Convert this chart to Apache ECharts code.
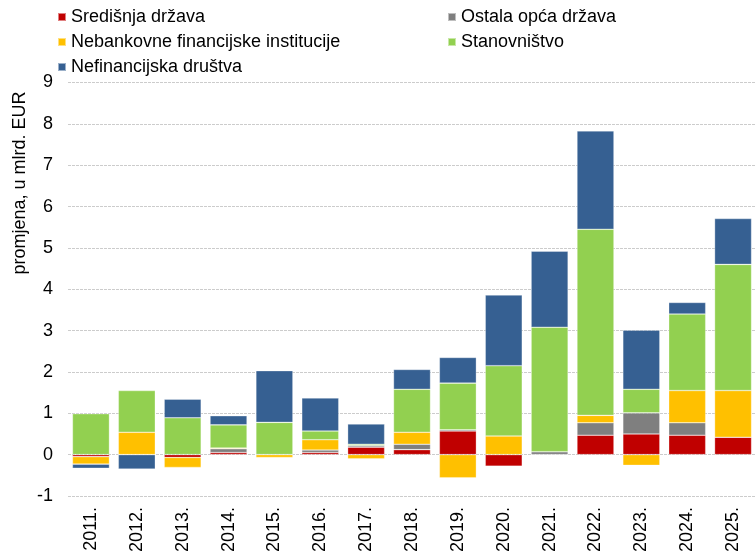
<!DOCTYPE html>
<html>
	<head>
		<meta charset="UTF-8">
		<title></title>
		<script src="https://cdn.jsdelivr.net/npm/echarts@6/dist/echarts.min.js"></script>
		<style>
			body{
				margin: 0;
				background: #fff;
			}
			#main{
				width: 756px;
				height: 555px;
			}
		</style>
	</head>
	<body>
		<div id="main"></div>
		<script>
		// podaci
		var godine = ['2011.','2012.','2013.','2014.','2015.','2016.','2017.','2018.','2019.','2020.','2021.','2022.','2023.','2024.','2025.'];
		var sredisnjaDrzava = [-0.05, 0, -0.07, 0.05, 0, 0.05, 0.18, 0.12, 0.57, -0.28, 0, 0.47, 0.50, 0.47, 0.42];
		var ostalaOpcaDrzava = [0, 0, 0, 0.09, 0, 0.06, 0.04, 0.13, 0.03, 0, 0.07, 0.30, 0.51, 0.30, 0];
		var nebankovne = [-0.18, 0.54, -0.24, 0.02, -0.07, 0.25, -0.10, 0.29, -0.56, 0.45, 0, 0.18, -0.26, 0.78, 1.13];
		var stanovnistvo = [0.99, 1.01, 0.89, 0.56, 0.78, 0.21, 0.03, 1.04, 1.13, 1.70, 3.01, 4.50, 0.57, 1.85, 3.05];
		var nefinancijska = [-0.10, -0.35, 0.45, 0.22, 1.25, 0.80, 0.49, 0.48, 0.62, 1.71, 1.84, 2.38, 1.43, 0.28, 1.11];

		var font = 'Liberation Sans, Arial, sans-serif';
		var myChart = echarts.init(document.getElementById('main'));

		function serija(name, data, color){
			return {
				name: name,
				type: 'bar',
				stack: 'ukupno',
				barWidth: 37,
				itemStyle: {color: color, borderColor: 'rgba(255,255,255,0.5)', borderWidth: 0.6},
				data: data
			};
		}

		function legenda(name, left, top){
			return {
				data: [name],
				left: left,
				top: top,
				padding: 0,
				icon: 'rect',
				itemWidth: 8,
				itemHeight: 8,
				selectedMode: false,
				textStyle: {fontFamily: font, fontSize: 18, color: '#000'}
			};
		}

		var option = {
			animation: false,
			legend: [
				legenda('Središnja država', 57, 8),
				legenda('Ostala opća država', 447, 8),
				legenda('Nebankovne financijske institucije', 57, 33),
				legenda('Stanovništvo', 447, 33),
				legenda('Nefinancijska društva', 57, 58)
			],
			grid: {
				left: 68,
				top: 82.5,
				width: 690,
				height: 415.5,
				containLabel: false
			},
			graphic: [{
				type: 'text',
				x: 20,
				y: 183,
				rotation: Math.PI / 2,
				style: {
					text: 'promjena, u mlrd. EUR',
					font: '18px ' + font,
					fill: '#000',
					textAlign: 'center',
					textVerticalAlign: 'middle'
				}
			}],
			xAxis: {
				type: 'category',
				data: godine,
				axisLine: {show: false},
				axisTick: {show: false},
				axisLabel: {
					rotate: 90,
					margin: 11,
					fontFamily: font,
					fontSize: 18,
					color: '#000'
				}
			},
			yAxis: {
				type: 'value',
				min: -1,
				max: 9,
				interval: 1,
				axisLine: {show: false},
				axisTick: {show: false},
				axisLabel: {
					margin: 15,
					fontFamily: font,
					fontSize: 18,
					color: '#000'
				},
				splitLine: {
					lineStyle: {color: '#cccccc', width: 1.2, type: [3, 1]}
				}
			},
			series: [
				serija('Središnja država', sredisnjaDrzava, '#C00000'),
				serija('Ostala opća država', ostalaOpcaDrzava, '#7F7F7F'),
				serija('Nebankovne financijske institucije', nebankovne, '#FFC000'),
				serija('Stanovništvo', stanovnistvo, '#92D050'),
				serija('Nefinancijska društva', nefinancijska, '#366092')
			]
		};
		myChart.setOption(option);
		</script>
	</body>
</html>
